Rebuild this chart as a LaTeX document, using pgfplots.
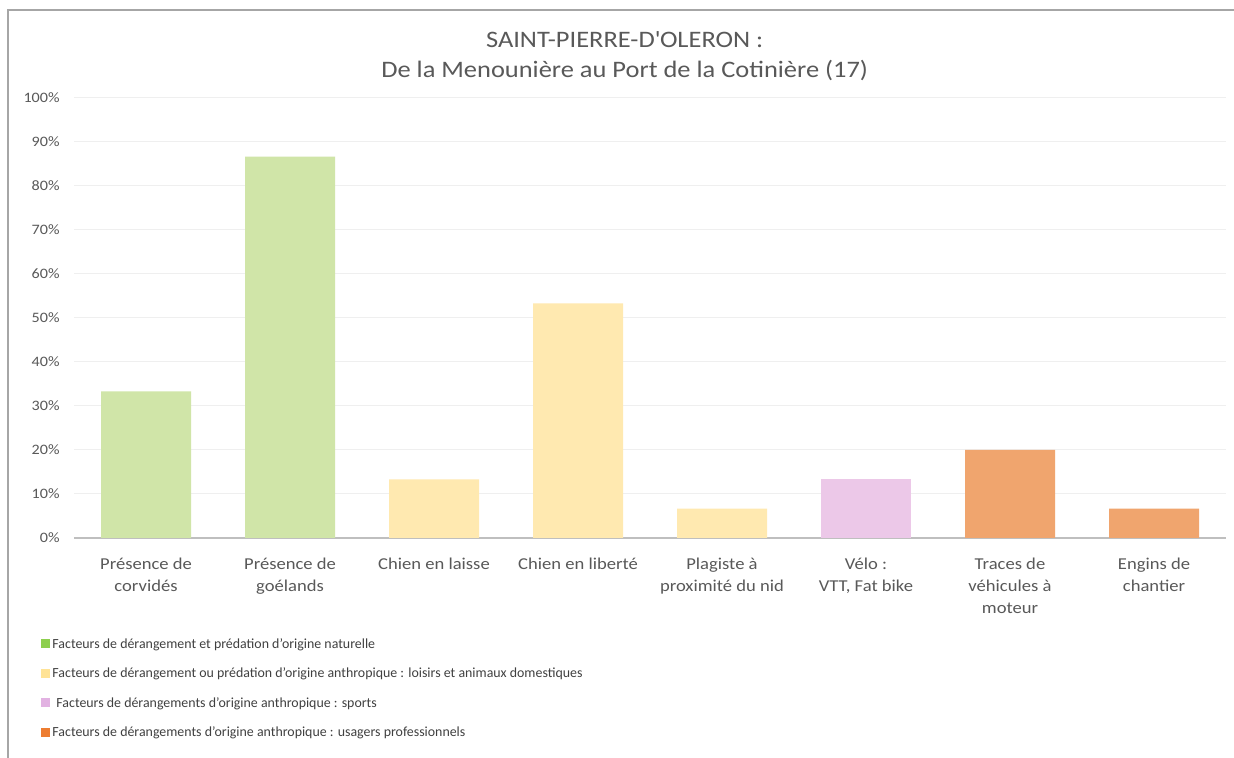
\documentclass[border=0pt]{standalone}
\usepackage{fontspec}
\setmainfont{Carlito}[FakeStretch=1.12]
\newfontfamily\legfont{Carlito}[FakeStretch=1.0]
\usepackage{pgfplots}
\pgfplotsset{compat=1.18}
\definecolor{barGreen}{HTML}{D0E5A8}
\definecolor{barYellow}{HTML}{FFE9B0}
\definecolor{barPink}{HTML}{ECC8E8}
\definecolor{barOrange}{HTML}{F0A56E}
\definecolor{legGreen}{HTML}{8DCF4E}
\definecolor{legYellow}{HTML}{FFE396}
\definecolor{legPink}{HTML}{E2B2E2}
\definecolor{legOrange}{HTML}{ED7D31}
\definecolor{txtGray}{HTML}{595959}
\definecolor{legText}{HTML}{404040}
\definecolor{gridGray}{HTML}{EFEFEF}
\definecolor{axGray}{HTML}{BFBFBF}
\definecolor{frameGray}{HTML}{A6A6A6}
\begin{document}
\begin{tikzpicture}
\useasboundingbox (0,0) rectangle (617pt,379pt);
\fill[white] (0,0) rectangle (617pt,379pt);
\draw[draw=frameGray, line width=1pt] (4pt,0) -- (4pt,374pt) -- (617pt,374pt);
\begin{axis}[
  at={(37pt,110pt)}, anchor=south west,
  scale only axis, width=576pt, height=220pt,
  xmin=-0.5, xmax=7.5, ymin=0, ymax=100,
  ybar, bar width=45pt,
  axis lines*=left,
  y axis line style={draw=none},
  x axis line style={draw=axGray, line width=0.75pt, -},
  xtick={0,...,7},
  xticklabels={{Présence de\\corvidés},{Présence de\\goélands},{Chien en laisse},{Chien en liberté},{Plagiste à\\proximité du nid},{Vélo :\\VTT, Fat bike},{Traces de\\véhicules à\\moteur},{Engins de\\chantier}},
  ytick={0,10,...,100},
  yticklabels={0\%,10\%,20\%,30\%,40\%,50\%,60\%,70\%,80\%,90\%,100\%},
  major tick length=0pt,
  ymajorgrids, major grid style={draw=gridGray, line width=0.5pt},
  xticklabel style={align=center, font=\fontsize{8.3}{11}\selectfont, text=txtGray, anchor=north, inner sep=0pt, yshift=-10pt},
  yticklabel style={font=\fontsize{7.2}{9}\selectfont, text=txtGray, anchor=east, inner sep=0pt, xshift=-7pt},
  title={SAINT-PIERRE-D\textquotesingle OLERON :\\De la Menounière au Port de la Cotinière (17)},
  title style={at={(0.478,1.125)}, anchor=north, align=center, inner sep=0pt, font=\fontsize{11.8}{15}\selectfont, text=txtGray},
  legend cell align=left,
  legend style={at={(-0.0286,-0.2265)}, anchor=north west, draw=none, fill=none, inner sep=0pt,
    font=\legfont\fontsize{6.95}{8}\selectfont, text=legText, row sep=7.9pt, column sep=1.5pt,
    nodes={inner sep=0pt, text height=5.2pt, text depth=1.6pt}},
]
\addplot[fill=barGreen, draw=none, bar shift=0pt, forget plot] coordinates {(0,33.33) (1,86.67)};
\addplot[fill=barYellow, draw=none, bar shift=0pt, forget plot] coordinates {(2,13.33) (3,53.33) (4,6.67)};
\addplot[fill=barPink, draw=none, bar shift=0pt, forget plot] coordinates {(5,13.33)};
\addplot[fill=barOrange, draw=none, bar shift=0pt, forget plot] coordinates {(6,20) (7,6.67)};
\addlegendimage{legend image code/.code={\fill[legGreen] (0pt,-1.5pt) rectangle (3.6pt,2.5pt);}}
\addlegendentry{Facteurs de dérangement et prédation d’origine naturelle}
\addlegendimage{legend image code/.code={\fill[legYellow] (0pt,-1.5pt) rectangle (3.6pt,2.5pt);}}
\addlegendentry{Facteurs de dérangement ou prédation d’origine anthropique : loisirs et animaux domestiques}
\addlegendimage{legend image code/.code={\fill[legPink] (0pt,-1.5pt) rectangle (3.6pt,2.5pt);}}
\addlegendentry{\hspace{2pt}Facteurs de dérangements d’origine anthropique : sports}
\addlegendimage{legend image code/.code={\fill[legOrange] (0pt,-1.5pt) rectangle (3.6pt,2.5pt);}}
\addlegendentry{Facteurs de dérangements d’origine anthropique : usagers professionnels}
\end{axis}
\end{tikzpicture}
\end{document}
